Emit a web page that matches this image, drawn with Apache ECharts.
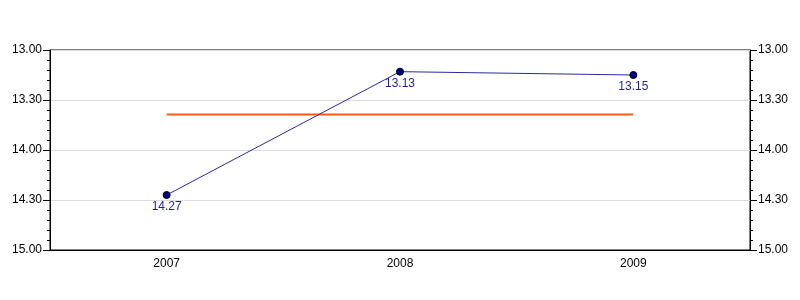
<!DOCTYPE html>
<html>
<head>
<meta charset="utf-8">
<script src="https://cdn.jsdelivr.net/npm/echarts@6/dist/echarts.min.js"></script>
<style>html,body{margin:0;padding:0;background:#fff}#c{width:800px;height:300px}</style>
</head>
<body>
<div id="c"></div>
<script>
// categories and values (times in decimal minutes)
var categories = ['2007', '2008', '2009'];
var times = [14.45, 13.2167, 13.25];
var timeLabels = ['14.27', '13.13', '13.15'];
var averageValues = [13.645, 13.645, 13.645];

function fmt(v) {
  var m = Math.floor(v + 1e-9);
  var s = Math.round((v - m) * 60);
  return m + '.' + (s < 10 ? '0' + s : s);
}

var font = 'Liberation Sans, Arial, sans-serif';
function yAxis(pos, showSplit) {
  return {
    type: 'value', position: pos, inverse: true, min: 13, max: 15, interval: 0.5,
    axisLine: { show: true, lineStyle: { color: '#000', width: 1 } },
    axisTick: { show: true, length: 7, inside: false, lineStyle: { color: '#000' } },
    minorTick: { show: true, splitNumber: 5, length: 3, lineStyle: { color: '#000' } },
    splitLine: { show: showSplit, lineStyle: { color: '#dcdcdc', width: 1 } },
    axisLabel: { color: '#000', fontSize: 12, fontFamily: font, margin: 8, formatter: fmt }
  };
}

var chart = echarts.init(document.getElementById('c'), null, { renderer: 'canvas' });
chart.setOption({
  animation: false,
  grid: { left: 50, right: 50, top: 50, bottom: 50, show: true, borderColor: '#000', borderWidth: 1, backgroundColor: 'transparent' },
  xAxis: {
    type: 'category', data: categories, boundaryGap: true,
    axisLine: { lineStyle: { color: '#000' } },
    axisTick: { alignWithLabel: true, length: 5, lineStyle: { color: '#000' } },
    axisLabel: { color: '#000', fontSize: 12, fontFamily: font, margin: 8 },
    splitLine: { show: false }
  },
  yAxis: [yAxis('left', true), yAxis('right', false)],
  series: [
    {
      type: 'line', data: averageValues, yAxisIndex: 0, symbol: 'none',
      lineStyle: { color: '#ff5a10', width: 2 }, z: 2
    },
    {
      type: 'line', data: times, yAxisIndex: 0, symbol: 'circle', symbolSize: 7,
      lineStyle: { color: '#2a2aa0', width: 1 },
      itemStyle: { color: '#000080', borderColor: '#000', borderWidth: 1 },
      label: {
        show: true, position: 'bottom', distance: 2, color: '#1f1fa0', fontSize: 12, fontFamily: font,
        formatter: function (p) { return timeLabels[p.dataIndex]; }
      }, z: 3
    }
  ]
});
</script>
</body>
</html>
